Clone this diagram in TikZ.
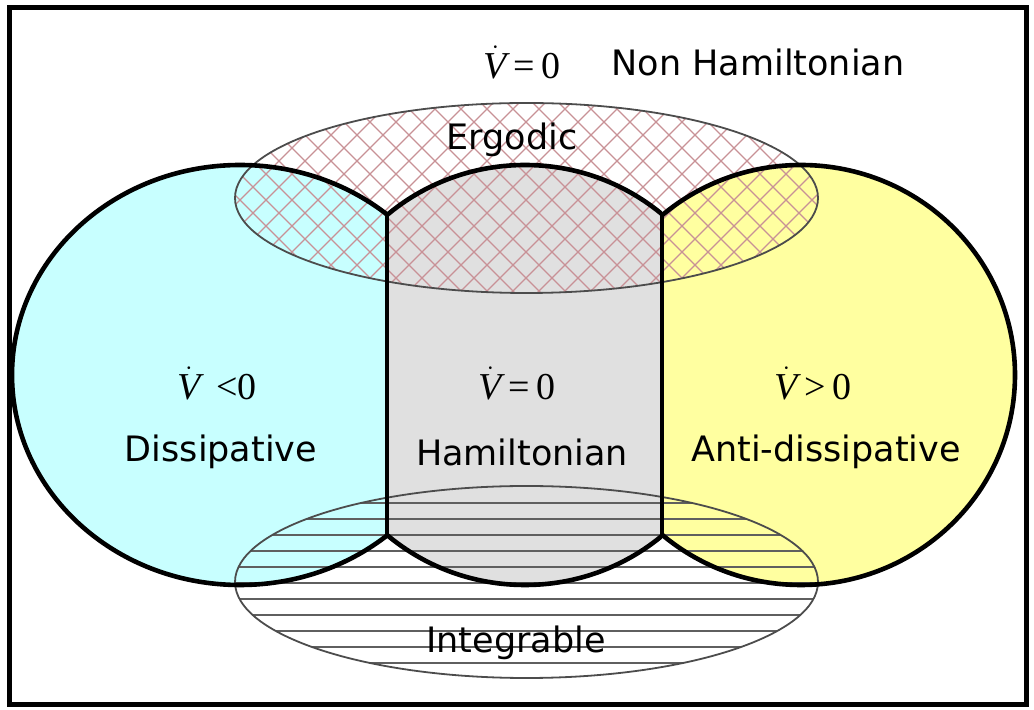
\documentclass[tikz,border=0pt]{standalone}
\usepackage{fontspec}
\setmainfont{DejaVu Sans}
\newfontfamily\eqfont{Liberation Serif}
\newcommand{\vdt}{$\dot{\hbox{\itshape V}}$}

\definecolor{dissipcol}{RGB}{200,255,255}
\definecolor{hamilcol}{RGB}{224,224,224}
\definecolor{antidiscol}{RGB}{255,255,160}
\definecolor{ergline}{RGB}{200,145,150}
\definecolor{intline}{RGB}{95,95,95}

\tikzset{
    region/.style={line width=2.3pt},
    setline/.style={line width=0.9pt, draw=black!70},
    txt/.style={font=\fontsize{17.5}{20}\selectfont, inner sep=0pt},
    eq/.style={font=\eqfont\fontsize{19}{21}\selectfont, inner sep=0pt},
}

\begin{document}
\begin{tikzpicture}[x=0.5pt, y=-0.5pt]
    \useasboundingbox (0,0) rectangle (1034,710);

    % fills of the three regions
    \begin{scope}
        \clip (0,0) rectangle (387,710);
        \fill[dissipcol] (240,375) ellipse (228 and 210);
    \end{scope}
    \begin{scope}
        \clip (387,0) rectangle (662,710);
        \fill[hamilcol] (525,375) ellipse (213 and 210);
    \end{scope}
    \begin{scope}
        \clip (662,0) rectangle (1034,710);
        \fill[antidiscol] (801,375) ellipse (214 and 210);
    \end{scope}

    % ergodic: cross hatching
    \begin{scope}
        \clip (526.5,198) ellipse (291.5 and 95);
        \foreach \c in {0,26,...,858} {
            \draw[ergline, line width=0.55pt] (\c,90) -- ++(220,220);
            \draw[ergline, line width=0.55pt] (\c,310) -- ++(220,-220);
        }
    \end{scope}
    \draw[setline] (526.5,198) ellipse (291.5 and 95);

    % integrable: horizontal lines
    \begin{scope}
        \clip (526.5,582) ellipse (291.5 and 96);
        \foreach \y in {503,519,...,679}
            \draw[intline, line width=0.7pt] (230,\y) -- (825,\y);
    \end{scope}
    \draw[setline] (526.5,582) ellipse (291.5 and 96);

    % outlines of the regions
    \begin{scope}
        \clip (0,0) rectangle (387,710);
        \draw[region] (240,375) ellipse (228 and 210);
    \end{scope}
    \begin{scope}
        \clip (387,0) rectangle (662,710);
        \draw[region] (525,375) ellipse (213 and 210);
    \end{scope}
    \begin{scope}
        \clip (662,0) rectangle (1034,710);
        \draw[region] (801,375) ellipse (214 and 210);
    \end{scope}
    \draw[region] (387,215) -- (387,535);
    \draw[region] (662,215) -- (662,535);

    \draw[line width=2.5pt] (9,8) rectangle (1026,705);

    \node[eq] (topeq) at (522,62) {\vdt\,=\,0};
    \node[txt] (nonham) at (758,62) {Non Hamiltonian};
    \node[txt] (ergo) at (512,140) {Ergodic};
    \node[eq] (leq) at (217,383) {\vdt\, \textless0};
    \node[txt] (ldiss) at (221,452) {Dissipative};
    \node[eq] (meq) at (517,383) {\vdt\,=\,0};
    \node[txt] (mham) at (522,452) {Hamiltonian};
    \node[eq] (req) at (813,383) {\vdt\,\textgreater\,0};
    \node[txt] (rdiss) at (826,452) {Anti-dissipative};
    \node[txt] (integ) at (516,643) {Integrable};
\end{tikzpicture}
\end{document}
